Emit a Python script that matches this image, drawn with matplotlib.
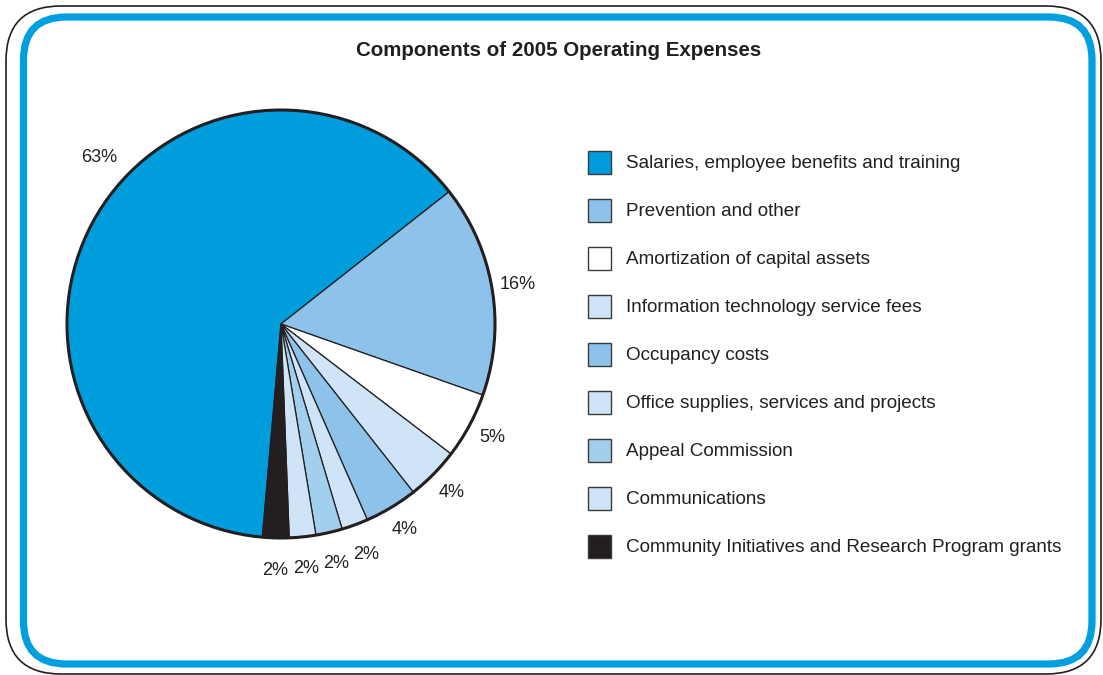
import matplotlib.pyplot as plt
from matplotlib.patches import FancyBboxPatch, Circle, Rectangle
import numpy as np

# expense components, in legend order
categories = [
    "Salaries, employee benefits and training",
    "Prevention and other",
    "Amortization of capital assets",
    "Information technology service fees",
    "Occupancy costs",
    "Office supplies, services and projects",
    "Appeal Commission",
    "Communications",
    "Community Initiatives and Research Program grants",
]
shares = [63, 16, 5, 4, 4, 2, 2, 2, 2]
colors = [
    "#009ddc", "#8dc3ea", "#ffffff", "#cfe4f6", "#8dc3ea",
    "#cfe4f6", "#a3cfef", "#cfe4f6", "#231f20",
]
title = "Components of 2005 Operating Expenses"

ink = "#231f20"
font = ["Liberation Sans", "DejaVu Sans"]

W, H = 1103, 675
fig = plt.figure(figsize=(W / 100, H / 100), dpi=100)
ax = fig.add_axes([0, 0, 1, 1])

# rounded frame: thin dark outline plus thick blue inner border
ax.add_patch(FancyBboxPatch((6, 1), 1095, 668, boxstyle="round,pad=0,rounding_size=55",
                            fc="none", ec=ink, lw=1.2))
ax.add_patch(FancyBboxPatch((23.5, 11), 1068.5, 647, boxstyle="round,pad=0,rounding_size=43",
                            fc="none", ec="#009fdf", lw=5.2))

ax.text(559, H - 51, title, ha="center", va="center", fontsize=14.8,
        fontweight="bold", color=ink, family=font)

# pie, drawn clockwise from just left of the bottom
cx, cy, r = 281, H - 324, 214
wedges, _ = ax.pie(shares, colors=colors, center=(cx, cy), radius=r,
                   startangle=265, counterclock=False,
                   wedgeprops=dict(edgecolor=ink, linewidth=0.9))
ax.add_patch(Circle((cx, cy), r, fc="none", ec=ink, lw=2.2))

for i, (w, v) in enumerate(zip(wedges, shares)):
    ang = 0.5 * (w.theta1 + w.theta2)
    dist = 1.12 if v > 2 else 1.15
    if i == 0:
        ang = 137.5
        dist = 1.15
    x = cx + dist * r * np.cos(np.radians(ang))
    y = cy + dist * r * np.sin(np.radians(ang))
    ax.text(x, y, f"{v}%", ha="center", va="center", fontsize=13,
            color=ink, family=font)

# legend
for i, (name, c) in enumerate(zip(categories, colors)):
    yc = H - (162 + 48 * i)
    ax.add_patch(Rectangle((588, yc - 11.5), 23, 23, fc=c, ec="#3a3a3a", lw=1.0))
    ax.text(626, yc - 2, name, ha="left", va="center", fontsize=13.6,
            color=ink, family=font)

ax.set_xlim(0, W)
ax.set_ylim(0, H)
ax.set_aspect("equal")
ax.axis("off")

fig.savefig("out.png", dpi=100)
